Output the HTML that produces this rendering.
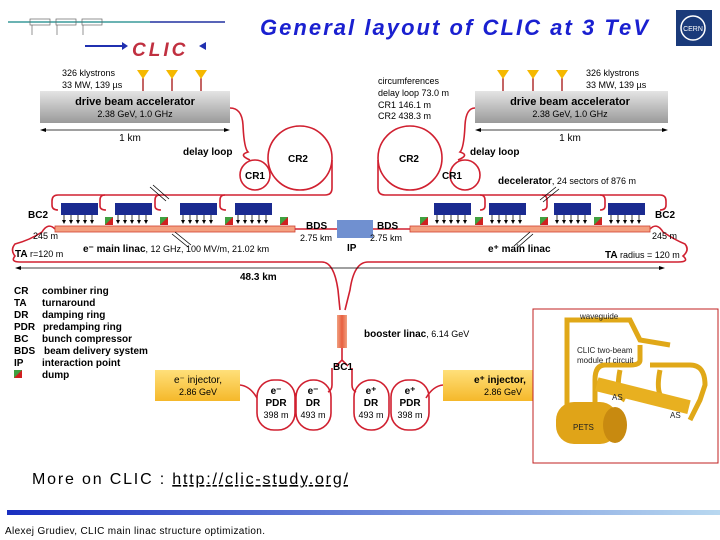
<!DOCTYPE html>
<html><head><meta charset="utf-8"><style>
body{margin:0;width:720px;height:540px;overflow:hidden;background:#fff}
svg{display:block}
text{font-family:"Liberation Sans",sans-serif}
</style></head><body>
<svg width="720" height="540" viewBox="0 0 720 540" xmlns="http://www.w3.org/2000/svg">
<defs>
<linearGradient id="gray" x1="0" y1="0" x2="0" y2="1"><stop offset="0" stop-color="#e4e4e4"/><stop offset="1" stop-color="#9a9a9a"/></linearGradient>
<linearGradient id="yel" x1="0" y1="0" x2="0" y2="1"><stop offset="0" stop-color="#ffe07a"/><stop offset="1" stop-color="#f5b82a"/></linearGradient>
<linearGradient id="bar" x1="0" y1="0" x2="1" y2="0"><stop offset="0" stop-color="#1a2fc0"/><stop offset="1" stop-color="#b8d8f0"/></linearGradient>
<linearGradient id="tbar" x1="0" y1="0" x2="1" y2="0"><stop offset="0" stop-color="#2040c0"/><stop offset="1" stop-color="#c0e0f0"/></linearGradient>
<linearGradient id="boost" x1="0" y1="0" x2="1" y2="0"><stop offset="0" stop-color="#f0a080"/><stop offset="0.5" stop-color="#e86040"/><stop offset="1" stop-color="#f0a080"/></linearGradient>
<marker id="ah" markerWidth="4" markerHeight="4" refX="2" refY="2" orient="auto" markerUnits="userSpaceOnUse"><polygon points="0,0 4,2 0,4" fill="#000"/></marker>
</defs>
<!-- header logo -->
<g stroke="#3a9a9a" stroke-width="1.5" fill="none">
<line x1="8" y1="22" x2="150" y2="22"/><line x1="150" y1="22" x2="225" y2="22" stroke="#2030a0"/>
<rect x="30" y="19" width="20" height="6" stroke="#666" stroke-width="0.7"/><rect x="56" y="19" width="20" height="6" stroke="#666" stroke-width="0.7"/><rect x="82" y="19" width="20" height="6" stroke="#666" stroke-width="0.7"/>
<line x1="32" y1="25" x2="32" y2="35" stroke="#666" stroke-width="0.7"/><line x1="57" y1="25" x2="57" y2="35" stroke="#666" stroke-width="0.7"/><line x1="83" y1="25" x2="83" y2="35" stroke="#666" stroke-width="0.7"/>
</g>
<path d="M85 46 L122 46" stroke="#2030b0" stroke-width="2"/><polygon points="122,42 128,46 122,50" fill="#2030b0"/>
<path d="M205 46 L670 46" stroke="url(#tbar)" stroke-width="2"/><polygon points="206,42 199,46 206,50" fill="#2030b0"/>
<text x="132" y="56" font-family="Liberation Serif" font-style="italic" font-weight="bold" font-size="19" fill="#c03040" letter-spacing="3">CLIC</text>
<text x="454" y="35" text-anchor="middle" font-family="'DejaVu Sans',sans-serif" font-style="italic" font-weight="bold" font-size="22" fill="#1a20d0" textLength="388">General layout of CLIC at 3 TeV</text>
<rect x="676" y="10" width="36" height="36" fill="#1a3a7a"/><circle cx="693" cy="28" r="12" fill="none" stroke="#fff" stroke-width="1.5"/><text x="693" y="31" text-anchor="middle" font-size="7" fill="#fff">CERN</text>

<!-- drive beam accelerators -->
<g font-size="10">
<rect x="40" y="91" width="190" height="32" fill="url(#gray)"/>
<text x="135" y="105" text-anchor="middle" font-weight="bold" font-size="11">drive beam accelerator</text>
<text x="135" y="117" text-anchor="middle" font-size="9">2.38 GeV, 1.0 GHz</text>
<text x="62" y="76" font-size="9">326 klystrons</text><text x="62" y="88" font-size="9">33 MW, 139 µs</text>
<rect x="475" y="91" width="193" height="32" fill="url(#gray)"/>
<text x="570" y="105" text-anchor="middle" font-weight="bold" font-size="11">drive beam accelerator</text>
<text x="570" y="117" text-anchor="middle" font-size="9">2.38 GeV, 1.0 GHz</text>
<text x="586" y="76" font-size="9">326 klystrons</text><text x="586" y="88" font-size="9">33 MW, 139 µs</text>
<text x="378" y="84" font-size="9">circumferences</text><text x="378" y="96" font-size="9">delay loop 73.0 m</text><text x="378" y="108" font-size="9">CR1 146.1 m</text><text x="378" y="119" font-size="9">CR2 438.3 m</text>
</g>
<g fill="#f5b800" stroke="#b03030" stroke-width="1.5">
<line x1="143" y1="78" x2="143" y2="91"/><line x1="172" y1="78" x2="172" y2="91"/><line x1="201" y1="78" x2="201" y2="91"/>
<line x1="503" y1="78" x2="503" y2="91"/><line x1="533" y1="78" x2="533" y2="91"/><line x1="562" y1="78" x2="562" y2="91"/>
</g>
<g fill="#f5b800">
<polygon points="137,70 149,70 143,79"/><polygon points="166,70 178,70 172,79"/><polygon points="195,70 207,70 201,79"/>
<polygon points="497,70 509,70 503,79"/><polygon points="527,70 539,70 533,79"/><polygon points="556,70 568,70 562,79"/>
</g>
<g stroke="#000" stroke-width="0.8">
<line x1="42" y1="130" x2="228" y2="130"/><line x1="477" y1="130" x2="666" y2="130"/>
</g>
<g fill="#000"><polygon points="40,130 46,128 46,132"/><polygon points="230,130 224,128 224,132"/><polygon points="475,130 481,128 481,132"/><polygon points="668,130 662,128 662,132"/></g>
<text x="130" y="141" font-size="10" text-anchor="middle">1 km</text><text x="570" y="141" font-size="10" text-anchor="middle">1 km</text>

<!-- loops & rings -->
<g fill="none" stroke="#d02030" stroke-width="1.6">
<path d="M230 108 Q242 108 243 125 Q244 148 248 152 Q238 155 250 160"/>
<circle cx="255" cy="175" r="15"/><circle cx="300" cy="158" r="32"/>
<path d="M332 160 L332 188 Q332 195 325 195 L58 195 Q52 195 52 201 L52 205 Q52 210 58 210"/>
<path d="M475 108 Q466 108 465 125 Q464 148 460 152 Q470 155 458 160"/>
<circle cx="465" cy="175" r="15"/><circle cx="410" cy="158" r="32"/>
<path d="M378 160 L378 188 Q378 195 385 195 L660 195 Q666 195 666 201 L666 205 Q666 210 660 210"/>
<path d="M105 195 Q100 195 100 200 L100 206 Q100 210 106 210"/>
<path d="M160 195 Q155 195 155 200 L155 206 Q155 210 161 210"/>
<path d="M225 195 Q220 195 220 200 L220 206 Q220 210 226 210"/>
<path d="M480 195 Q485 195 485 200 L485 206 Q485 210 480 210"/>
<path d="M542 195 Q547 195 547 200 L547 206 Q547 210 542 210"/>
<path d="M600 195 Q605 195 605 200 L605 206 Q605 210 600 210"/>
<path d="M55 229 Q48 222 42 232 Q30 240 15 244 Q10 250 15 256 Q10 262 20 262 L322 262 Q334 262 338 290 L340 310"/>
<path d="M650 229 Q657 222 663 232 Q675 240 685 244 Q690 250 683 256 Q690 262 678 262 L368 262 Q354 262 350 290 L345 310"/>
<path d="M342 348 L342 360 M336 366 L342 360 L348 366"/>
<path d="M332 368 L332 385 Q332 390 328 392"/>
<path d="M352 368 L352 385 Q352 390 356 392"/>
<path d="M240 385 Q250 386 257 398"/><path d="M443 385 Q433 386 426 398"/>
<rect x="257" y="380" width="38" height="50" rx="17"/>
<rect x="296" y="380" width="35" height="50" rx="17"/>
<rect x="354" y="380" width="35" height="50" rx="17"/>
<rect x="391" y="380" width="38" height="50" rx="17"/>
</g>
<g font-size="10" font-weight="bold">
<text x="183" y="155">delay loop</text><text x="470" y="155">delay loop</text>
<text x="255" y="179" text-anchor="middle">CR1</text><text x="298" y="162" text-anchor="middle">CR2</text>
<text x="452" y="179" text-anchor="middle">CR1</text><text x="409" y="162" text-anchor="middle">CR2</text>
<text x="498" y="184">decelerator<tspan font-weight="normal" font-size="9">, 24 sectors of 876 m</tspan></text>
</g>

<!-- linac pipes -->
<rect x="55" y="226" width="240" height="6" fill="#f4a080" stroke="#d04030" stroke-width="0.8"/>
<rect x="410" y="226" width="240" height="6" fill="#f4a080" stroke="#d04030" stroke-width="0.8"/>
<line x1="295" y1="229" x2="340" y2="229" stroke="#d02030" stroke-width="1.6"/>
<line x1="370" y1="229" x2="410" y2="229" stroke="#d02030" stroke-width="1.6"/>
<rect x="337" y="220" width="36" height="18" fill="#7090d0"/>
<g fill="#1a2a90">
<rect x="61" y="203" width="37" height="12"/><rect x="115" y="203" width="37" height="12"/><rect x="180" y="203" width="37" height="12"/><rect x="235" y="203" width="37" height="12"/>
<rect x="434" y="203" width="37" height="12"/><rect x="489" y="203" width="37" height="12"/><rect x="554" y="203" width="37" height="12"/><rect x="608" y="203" width="37" height="12"/>
</g>
<g stroke="#000" stroke-width="0.8" marker-end="url(#ah)">
<path d="M64 215v7"/><path d="M71 215v7"/><path d="M78 215v7"/><path d="M85 215v7"/><path d="M92 215v7"/>
<path d="M118 215v7"/><path d="M125 215v7"/><path d="M132 215v7"/><path d="M139 215v7"/><path d="M146 215v7"/>
<path d="M183 215v7"/><path d="M190 215v7"/><path d="M197 215v7"/><path d="M204 215v7"/><path d="M211 215v7"/>
<path d="M238 215v7"/><path d="M245 215v7"/><path d="M252 215v7"/><path d="M259 215v7"/><path d="M266 215v7"/>
<path d="M437 215v7"/><path d="M444 215v7"/><path d="M451 215v7"/><path d="M458 215v7"/><path d="M465 215v7"/>
<path d="M492 215v7"/><path d="M499 215v7"/><path d="M506 215v7"/><path d="M513 215v7"/><path d="M520 215v7"/>
<path d="M557 215v7"/><path d="M564 215v7"/><path d="M571 215v7"/><path d="M578 215v7"/><path d="M585 215v7"/>
<path d="M611 215v7"/><path d="M618 215v7"/><path d="M625 215v7"/><path d="M632 215v7"/><path d="M639 215v7"/>
</g>
<g stroke="#000" stroke-width="0.8">
<line x1="150" y1="187" x2="166" y2="201"/><line x1="153" y1="185" x2="169" y2="199"/>
<line x1="172" y1="234" x2="188" y2="247"/><line x1="175" y1="232" x2="191" y2="245"/>
<line x1="540" y1="200" x2="556" y2="187"/><line x1="543" y1="202" x2="559" y2="189"/>
<line x1="514" y1="246" x2="530" y2="232"/><line x1="517" y1="248" x2="533" y2="234"/>
</g>
<g>
<polygon points="105,217 113,217 113,225 105,225" fill="#d02020"/><polygon points="105,217 113,217 105,225" fill="#40a040"/>
<polygon points="160,217 168,217 168,225 160,225" fill="#d02020"/><polygon points="160,217 168,217 160,225" fill="#40a040"/>
<polygon points="225,217 233,217 233,225 225,225" fill="#d02020"/><polygon points="225,217 233,217 225,225" fill="#40a040"/>
<polygon points="280,217 288,217 288,225 280,225" fill="#d02020"/><polygon points="280,217 288,217 280,225" fill="#40a040"/>
<polygon points="420,217 428,217 428,225 420,225" fill="#d02020"/><polygon points="420,217 428,217 420,225" fill="#40a040"/>
<polygon points="475,217 483,217 483,225 475,225" fill="#d02020"/><polygon points="475,217 483,217 475,225" fill="#40a040"/>
<polygon points="540,217 548,217 548,225 540,225" fill="#d02020"/><polygon points="540,217 548,217 540,225" fill="#40a040"/>
<polygon points="594,217 602,217 602,225 594,225" fill="#d02020"/><polygon points="594,217 602,217 594,225" fill="#40a040"/>
</g>
<g font-size="10">
<text x="28" y="218" font-weight="bold">BC2</text><text x="655" y="218" font-weight="bold">BC2</text>
<text x="33" y="239" font-size="9">245 m</text><text x="652" y="239" font-size="9">245 m</text>
<text x="15" y="257" font-weight="bold">TA <tspan font-weight="normal" font-size="9">r=120 m</tspan></text>
<text x="605" y="258" font-weight="bold">TA <tspan font-weight="normal" font-size="9">radius = 120 m</tspan></text>
<text x="83" y="252" font-weight="bold">e⁻ main linac<tspan font-weight="normal" font-size="9">, 12 GHz, 100 MV/m, 21.02 km</tspan></text>
<text x="488" y="252" font-weight="bold">e⁺ main linac</text>
<text x="306" y="229" font-weight="bold">BDS</text><text x="300" y="241" font-size="9">2.75 km</text>
<text x="377" y="229" font-weight="bold">BDS</text><text x="370" y="241" font-size="9">2.75 km</text>
<text x="347" y="251" font-weight="bold">IP</text>
</g>
<line x1="18" y1="268" x2="662" y2="268" stroke="#000" stroke-width="0.8"/>
<polygon points="15,268 21,266 21,270"/><polygon points="665,268 659,266 659,270"/>
<text x="240" y="280" font-size="10" font-weight="bold">48.3 km</text>

<!-- legend -->
<g font-size="10" font-weight="bold">
<text x="14" y="294">CR</text><text x="42" y="294">combiner ring</text>
<text x="14" y="306">TA</text><text x="42" y="306">turnaround</text>
<text x="14" y="318">DR</text><text x="42" y="318">damping ring</text>
<text x="14" y="330">PDR</text><text x="43" y="330">predamping ring</text>
<text x="14" y="342">BC</text><text x="42" y="342">bunch compressor</text>
<text x="14" y="354">BDS</text><text x="44" y="354">beam delivery system</text>
<text x="14" y="366">IP</text><text x="42" y="366">interaction point</text>
<text x="42" y="378">dump</text>
</g>
<polygon points="14,370 22,370 22,378 14,378" fill="#d02020"/><polygon points="14,370 22,370 14,378" fill="#40a040"/>

<!-- booster & injectors -->
<rect x="337" y="315" width="10" height="33" fill="url(#boost)"/>
<text x="364" y="337" font-size="10" font-weight="bold">booster linac<tspan font-weight="normal" font-size="9">, 6.14 GeV</tspan></text>
<text x="343" y="370" font-size="10" font-weight="bold" text-anchor="middle">BC1</text>
<rect x="155" y="370" width="85" height="31" fill="url(#yel)"/>
<text x="198" y="383" font-size="10" text-anchor="middle">e⁻ injector,</text><text x="198" y="395" font-size="9" text-anchor="middle">2.86 GeV</text>
<rect x="443" y="370" width="92" height="31" fill="url(#yel)"/>
<text x="474" y="383" font-size="10" font-weight="bold">e⁺ injector,</text><text x="484" y="395" font-size="9">2.86 GeV</text>
<g font-size="10" text-anchor="middle" font-weight="bold">
<text x="276" y="394">e⁻</text><text x="276" y="406">PDR</text><text x="276" y="418" font-weight="normal" font-size="9">398 m</text>
<text x="313" y="394">e⁻</text><text x="313" y="406">DR</text><text x="313" y="418" font-weight="normal" font-size="9">493 m</text>
<text x="371" y="394">e⁺</text><text x="371" y="406">DR</text><text x="371" y="418" font-weight="normal" font-size="9">493 m</text>
<text x="410" y="394">e⁺</text><text x="410" y="406">PDR</text><text x="410" y="418" font-weight="normal" font-size="9">398 m</text>
</g>

<!-- photo -->
<rect x="533" y="309" width="185" height="154" fill="#fff" stroke="#c02020" stroke-width="1"/>
<g fill="none" stroke="#e0a818" stroke-width="5">
<path d="M567 420 L567 320 L630 320 L640 340 L670 345"/>
<path d="M640 345 L640 360 Q640 365 630 365 L605 365 Q595 365 595 380 L595 405"/>
<path d="M650 365 L690 365 Q705 365 705 385 L700 400 L690 420"/>
<path d="M620 370 Q615 395 625 400 M660 370 Q655 395 665 400"/>
</g>
<rect x="595" y="388" width="95" height="14" fill="#e8b020" transform="rotate(14 640 397)"/>
<rect x="556" y="402" width="62" height="42" rx="18" fill="#e0a418"/>
<ellipse cx="615" cy="425" rx="12" ry="18" fill="#c88a10"/>
<g font-size="8" fill="#222"><text x="580" y="319">waveguide</text><text x="577" y="353">CLIC two-beam</text><text x="577" y="363">module rf circuit</text><text x="612" y="400">AS</text><text x="670" y="418">AS</text><text x="573" y="430">PETS</text></g>

<!-- footer -->
<text x="32" y="484" font-family="'DejaVu Sans',sans-serif" font-size="16" textLength="316">More on CLIC : <tspan text-decoration="underline">http://clic-study.org/</tspan></text>
<rect x="7" y="510" width="713" height="5" fill="url(#bar)"/>
<text x="5" y="534" font-family="'DejaVu Sans',sans-serif" font-size="10" textLength="260">Alexej Grudiev, CLIC main linac structure optimization.</text>
</svg>
</body></html>
